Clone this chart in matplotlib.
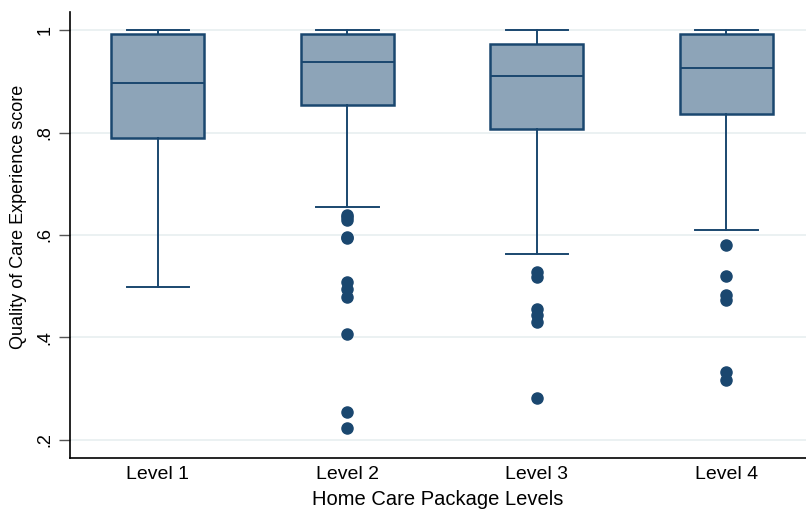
import numpy as np
import matplotlib
matplotlib.use("Agg")
import matplotlib.pyplot as plt

# box summary per level
levels = ["Level 1", "Level 2", "Level 3", "Level 4"]
whisk_hi = [1.0, 1.0, 1.0, 1.0]
q3 = [0.993, 0.993, 0.974, 0.993]
median = [0.897, 0.938, 0.910, 0.926]
q1 = [0.789, 0.855, 0.807, 0.837]
whisk_lo = [0.499, 0.655, 0.563, 0.610]
outliers = [
    [],
    [0.639, 0.635, 0.629, 0.597, 0.595, 0.509, 0.494, 0.479, 0.406, 0.254, 0.222],
    [0.528, 0.518, 0.455, 0.444, 0.430, 0.281],
    [0.580, 0.520, 0.483, 0.473, 0.333, 0.316],
]

navy = "#1a476f"
fill = "#8da4b8"

plt.rcParams['font.family'] = ['Liberation Sans', 'DejaVu Sans']

fig = plt.figure(figsize=(8.06, 5.12), dpi=100)
ax = fig.add_axes([70 / 806, 1 - 458 / 512, 736 / 806, 446 / 512])

stats = []
for i in range(len(levels)):
    stats.append({
        "label": levels[i], "med": median[i], "q1": q1[i], "q3": q3[i],
        "whislo": whisk_lo[i], "whishi": whisk_hi[i], "fliers": outliers[i],
    })

ax.bxp(stats, positions=[1, 2, 3, 4], widths=0.49, capwidths=0.33,
       patch_artist=True,
       boxprops=dict(facecolor=fill, edgecolor=navy, linewidth=1.8),
       medianprops=dict(color=navy, linewidth=1.4),
       whiskerprops=dict(color=navy, linewidth=1.4),
       capprops=dict(color=navy, linewidth=1.4),
       flierprops=dict(marker="o", markerfacecolor=navy, markeredgecolor=navy,
                       markersize=8, linestyle="none"))

ax.set_xlim(0.536, 4.42)
ax.set_ylim(0.164, 1.036)
ax.set_yticks([0.2, 0.4, 0.6, 0.8, 1.0])
ax.set_yticklabels([".2", ".4", ".6", ".8", "1"], rotation=90, va="center")
ax.tick_params(axis="y", length=8, width=1, color="#555555", labelsize=13, pad=4)
ax.tick_params(axis="x", length=0, labelsize=14, pad=6)
ax.grid(axis="y", color="#e8eff0", linewidth=1.2)
ax.set_axisbelow(True)

for s in ["top", "right"]:
    ax.spines[s].set_visible(False)
for s in ["left", "bottom"]:
    ax.spines[s].set_color("black")
    ax.spines[s].set_linewidth(1.2)

ax.set_ylabel("Quality of Care Experience score", fontsize=13)
ax.yaxis.set_label_coords(-0.058, 0.54)
ax.set_xlabel("Home Care Package Levels", fontsize=14.5, labelpad=5)

fig.savefig("out.png", dpi=100)
